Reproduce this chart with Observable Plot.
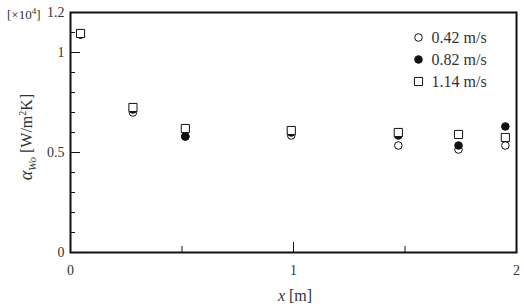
<!DOCTYPE html>
<html><head><meta charset="utf-8">
<script src="https://cdn.jsdelivr.net/npm/d3@7"></script>
<script src="https://cdn.jsdelivr.net/npm/@observablehq/plot@0.6"></script>
<style>body{margin:0;background:#fff}</style>
</head><body><div id="chart"></div>
<script>
const xPos = [0.045, 0.28, 0.515, 0.99, 1.47, 1.74, 1.95];
const v042 = [1.09, 0.70, 0.58, 0.585, 0.535, 0.515, 0.535];
const v082 = [1.09, 0.715, 0.58, 0.60, 0.585, 0.535, 0.63];
const v114 = [1.095, 0.725, 0.62, 0.61, 0.60, 0.59, 0.575];
const seriesNames = ["0.42 m/s", "0.82 m/s", "1.14 m/s"];
const xLabels = [0, 1, 2];
const xMinor = [0.5, 1.5];
const yLabels = [0, 0.5, 1, 1.2];
const yMajor = [0.5, 1];
const yMinor = [0.1, 0.2, 0.3, 0.4, 0.6, 0.7, 0.8, 0.9, 1.1];

const ink = "#111";
const rows = (vals) => xPos.map((x, i) => ({x, y: vals[i]}));
const styles = [
  {symbol: "circle", fill: "white", r: 3.8},
  {symbol: "circle", fill: ink, r: 3.8},
  {symbol: "square", fill: "white", r: 4.6}
];
const seriesData = [rows(v042), rows(v082), rows(v114)];
const fmt = d3.format("~g");

const marks = [];
seriesData.forEach((d, i) => {
  marks.push(Plot.dot(d, {x: "x", y: "y", symbol: styles[i].symbol, r: styles[i].r, fill: styles[i].fill, stroke: ink, strokeWidth: 1}));
});
// legend
seriesNames.forEach((name, i) => {
  marks.push(Plot.dot([name], {frameAnchor: "top-left", dx: 348, dy: 25 + 22 * i, symbol: styles[i].symbol, r: styles[i].r, fill: styles[i].fill, stroke: ink, strokeWidth: 1}));
  marks.push(Plot.text([name], {frameAnchor: "top-left", lineAnchor: "middle", dx: 361, dy: 25 + 22 * i, text: d => d, textAnchor: "start", fontSize: 16, fill: "#333"}));
});

const plot = Plot.plot({
  width: 524, height: 308,
  marginLeft: 70, marginRight: 8, marginTop: 12, marginBottom: 56,
  style: {fontFamily: "'Liberation Serif', 'Times New Roman', serif", fontSize: "14px", color: "#333", background: "white"},
  x: {domain: [0, 2]},
  y: {domain: [0, 1.2]},
  marks: [
    Plot.axisX({ticks: [1], tickSize: -10, tickFormat: () => "", stroke: ink, label: null}),
    Plot.axisX({ticks: xMinor, tickSize: -6, tickFormat: () => "", stroke: ink, label: null}),
    Plot.axisX({ticks: xLabels, tickSize: 0, tickPadding: 13, tickFormat: fmt, label: null}),
    Plot.axisY({ticks: yMajor, tickSize: -10, tickFormat: () => "", stroke: ink, label: null}),
    Plot.axisY({ticks: yMinor, tickSize: -5, tickFormat: () => "", stroke: ink, label: null}),
    Plot.axisY({ticks: yLabels, tickSize: 0, tickPadding: 6, tickFormat: fmt, label: null}),
    ...marks,
    Plot.frame({stroke: ink, strokeWidth: 2})
  ]
});
document.getElementById("chart").append(plot);

const svg = d3.select(plot);
const ff = "'Liberation Serif', 'Times New Roman', serif";
// multiplier
const mult = svg.append("text").attr("x", 7).attr("y", 19).attr("text-anchor", "start")
  .attr("font-family", ff).attr("font-size", 13).attr("fill", "#333");
mult.append("tspan").text("[×10");
mult.append("tspan").attr("font-size", 9).attr("dy", -5).text("4");
mult.append("tspan").attr("dy", 5).text("]");
// y label
const yl = svg.append("text").attr("transform", "translate(32,137) rotate(-90)").attr("text-anchor", "middle")
  .attr("font-family", ff).attr("font-size", 16).attr("fill", "#333");
yl.append("tspan").attr("font-style", "italic").attr("font-size", 18).text("α");
yl.append("tspan").attr("font-style", "italic").attr("font-size", 11).attr("dy", 4).text("Wo");
yl.append("tspan").attr("dy", -4).text(" [W/m");
yl.append("tspan").attr("font-size", 10).attr("dy", -6).text("2");
yl.append("tspan").attr("dy", 6).text("K]");
// x label
const xl = svg.append("text").attr("x", 295).attr("y", 301).attr("text-anchor", "middle")
  .attr("font-family", ff).attr("font-size", 16).attr("fill", "#333");
xl.append("tspan").attr("font-style", "italic").text("x");
xl.append("tspan").text(" [m]");
</script>
</body></html>
